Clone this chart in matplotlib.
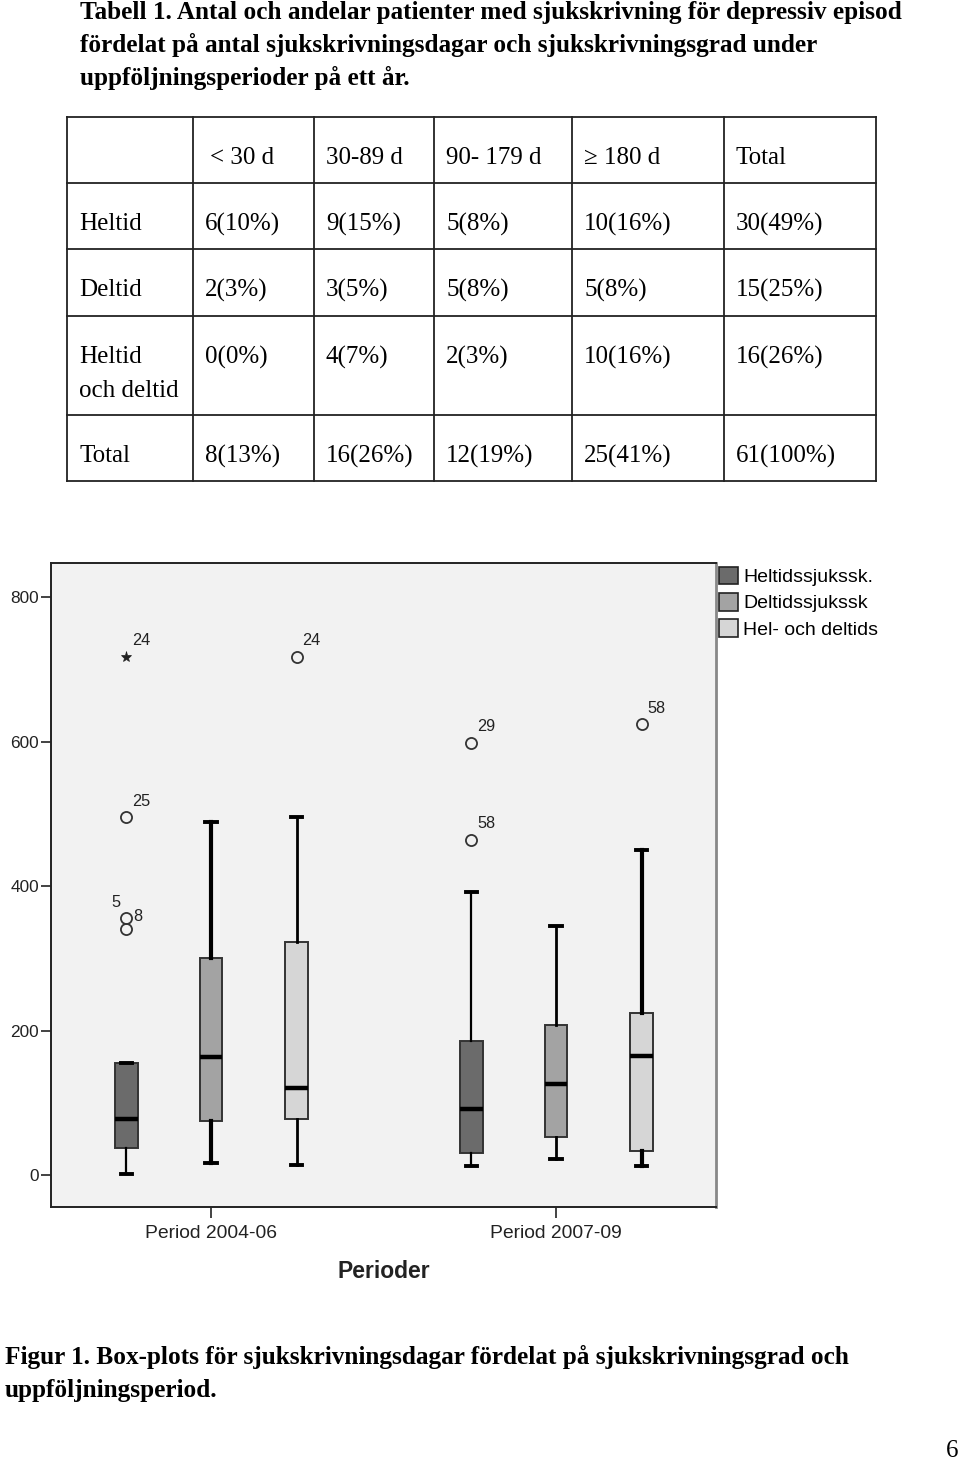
import matplotlib
matplotlib.use("Agg")
import matplotlib.pyplot as plt
from matplotlib.patches import Patch

# ---------------- data ----------------
title_lines = [
    "Tabell 1. Antal och andelar patienter med sjukskrivning för depressiv episod",
    "fördelat på antal sjukskrivningsdagar och sjukskrivningsgrad under",
    "uppföljningsperioder på ett år.",
]
col_headers = ["< 30 d", "30-89 d", "90- 179 d", "≥ 180 d", "Total"]
row_labels = ["Heltid", "Deltid", "Heltid\noch deltid", "Total"]
row_heltid = ["6(10%)", "9(15%)", "5(8%)", "10(16%)", "30(49%)"]
row_deltid = ["2(3%)", "3(5%)", "5(8%)", "5(8%)", "15(25%)"]
row_hel_och_del = ["0(0%)", "4(7%)", "2(3%)", "10(16%)", "16(26%)"]
row_total = ["8(13%)", "16(26%)", "12(19%)", "25(41%)", "61(100%)"]

periods = ["Period 2004-06", "Period 2007-09"]
groups = ["Heltidssjukssk.", "Deltidssjukssk", "Hel- och deltids"]

heltid_whislo = [1, 12]
heltid_q1 = [38, 31]
heltid_med = [77, 92]
heltid_q3 = [155, 186]
heltid_whishi = [155, 392]

deltid_whislo = [17, 22]
deltid_q1 = [75, 52]
deltid_med = [163, 126]
deltid_q3 = [301, 207]
deltid_whishi = [489, 345]

helodel_whislo = [14, 12]
helodel_q1 = [77, 33]
helodel_med = [121, 165]
helodel_q3 = [322, 224]
helodel_whishi = [495, 450]

# outliers: group index, period index, value, case label, marker
out_group = [0, 0, 0, 0, 2, 0, 0, 2]
out_period = [0, 0, 0, 0, 0, 1, 1, 1]
out_value = [717, 495, 356, 340, 717, 598, 464, 624]
out_label = ["24", "25", "5", "8", "24", "29", "58", "58"]
out_marker = ["*", "o", "o", "o", "o", "o", "o", "o"]

caption_lines = [
    "Figur 1. Box-plots för sjukskrivningsdagar fördelat på sjukskrivningsgrad och",
    "uppföljningsperiod.",
]
page_number = "6"

# ---------------- styles ----------------
W, H = 960, 1466
fig = plt.figure(figsize=(W / 100, H / 100), dpi=100)
fig.patch.set_facecolor("white")

serif = ["Liberation Serif", "DejaVu Serif"]
sans = ["Liberation Sans", "DejaVu Sans"]

page = fig.add_axes([0, 0, 1, 1])
page.set_xlim(0, W)
page.set_ylim(H, 0)
page.axis("off")
page.set_zorder(-1)

# title
for i, line in enumerate(title_lines):
    page.text(80, 12 + i * 33, line, family=serif, fontweight="bold",
              fontsize=18.2, va="center", ha="left", color="black")

# table grid
col_x = [67, 193, 314, 434, 572, 724, 876]
row_y = [117, 183, 249, 316, 415, 481]
for x in col_x:
    page.plot([x, x], [row_y[0], row_y[-1]], color="#222222", lw=1.3)
for y in row_y:
    page.plot([col_x[0], col_x[-1]], [y, y], color="#222222", lw=1.3)

tfs = 18.0
for j, h in enumerate(col_headers):
    page.text(col_x[j + 1] + 12 + (5 if j == 0 else 0), row_y[0] + 41, h,
              family=serif, fontsize=tfs, va="center", ha="left")
table_rows = [row_heltid, row_deltid, row_hel_och_del, row_total]
for r, (lab, vals) in enumerate(zip(row_labels, table_rows)):
    top = row_y[r + 1]
    for k, part in enumerate(lab.split("\n")):
        page.text(col_x[0] + 12, top + 41 + k * 34, part, family=serif,
                  fontsize=tfs, va="center", ha="left")
    for j, v in enumerate(vals):
        page.text(col_x[j + 1] + 12, top + 41, v, family=serif, fontsize=tfs,
                  va="center", ha="left")

# caption
for i, line in enumerate(caption_lines):
    page.text(5, 1357 + i * 33, line, family=serif, fontweight="bold",
              fontsize=18.2, va="center", ha="left")
page.text(958, 1451, page_number, family=serif, fontsize=18,
          va="center", ha="right")

# ---------------- box plot ----------------
ax = fig.add_axes([51 / W, 1 - 1207 / H, (716 - 51) / W, (1207 - 563) / H])
ax.set_facecolor("#f2f2f2")

fills = ["#6b6b6b", "#a3a3a3", "#d6d6d6"]
offsets = [-0.245, 0.0, 0.248]
whisk_lw = [[1.6, 1.6], [3.0, 2.0], [2.0, 3.0]]
stats_by_group = [
    (heltid_whislo, heltid_q1, heltid_med, heltid_q3, heltid_whishi),
    (deltid_whislo, deltid_q1, deltid_med, deltid_q3, deltid_whishi),
    (helodel_whislo, helodel_q1, helodel_med, helodel_q3, helodel_whishi),
]
for g, (lo, q1, med, q3, hi) in enumerate(stats_by_group):
    for p in range(len(periods)):
        st = [dict(whislo=lo[p], q1=q1[p], med=med[p], q3=q3[p], whishi=hi[p],
                   fliers=[])]
        ax.bxp(st, positions=[p + 1 + offsets[g]], widths=0.066,
               patch_artist=True, showfliers=False, capwidths=0.032,
               boxprops=dict(facecolor=fills[g], edgecolor="#333333", lw=1.4),
               medianprops=dict(color="black", lw=3.2),
               whiskerprops=dict(color="black", lw=whisk_lw[g][p]),
               capprops=dict(color="black", lw=2.8),
               manage_ticks=False)

for g, p, v, lab, m in zip(out_group, out_period, out_value, out_label, out_marker):
    x = p + 1 + offsets[g]
    if m == "*":
        ax.plot(x, v, marker="*", ms=8, mfc="#222222", mec="#222222", mew=0.5,
                ls="none", zorder=5)
    else:
        ax.plot(x, v, marker="o", ms=8, mfc="none", mec="#333333", mew=1.3,
                ls="none", zorder=5)
    if lab == "5":
        off = (-15, 15)
    elif lab == "8" and p == 0:
        off = (7, 13)
    else:
        off = (6, 16)
    ax.annotate(lab, (x, v), xytext=off, textcoords="offset pixels",
                ha="left", va="center",
                fontsize=11.7, family=sans, color="#222222")

ax.set_xlim(0.5362, 2.4638)
ax.set_ylim(-44.3, 847.1)
ax.set_yticks([0, 200, 400, 600, 800])
ax.set_xticks([1, 2])
ax.set_xticklabels(periods)
ax.tick_params(axis="y", direction="out", length=7.5, width=1.2, pad=1,
               labelsize=12.4, colors="#222222")
ax.tick_params(axis="x", direction="out", length=8, width=1.2, pad=5,
               labelsize=13.9, colors="#222222")
for lab in ax.get_xticklabels() + ax.get_yticklabels():
    lab.set_family(sans)
ax.set_xlabel("Perioder", family=sans, fontweight="bold", fontsize=16.5,
              labelpad=13, color="#222222")
for s in ["left", "top", "bottom"]:
    ax.spines[s].set_color("#222222")
    ax.spines[s].set_linewidth(1.4)
ax.spines["right"].set_color("#888888")
ax.spines["right"].set_linewidth(2)

handles = [Patch(facecolor=c, edgecolor="#222222", lw=1.2) for c in fills]
fig.legend(handles, groups, loc="upper left",
           bbox_to_anchor=(717 / W, 1 - 565 / H), frameon=False,
           prop=dict(family=sans, size=14.0), handlelength=1.0,
           handleheight=1.0, handletextpad=0.25, labelspacing=0.35,
           borderpad=0.1, borderaxespad=0)

fig.savefig("out.png", dpi=100, facecolor="white")
